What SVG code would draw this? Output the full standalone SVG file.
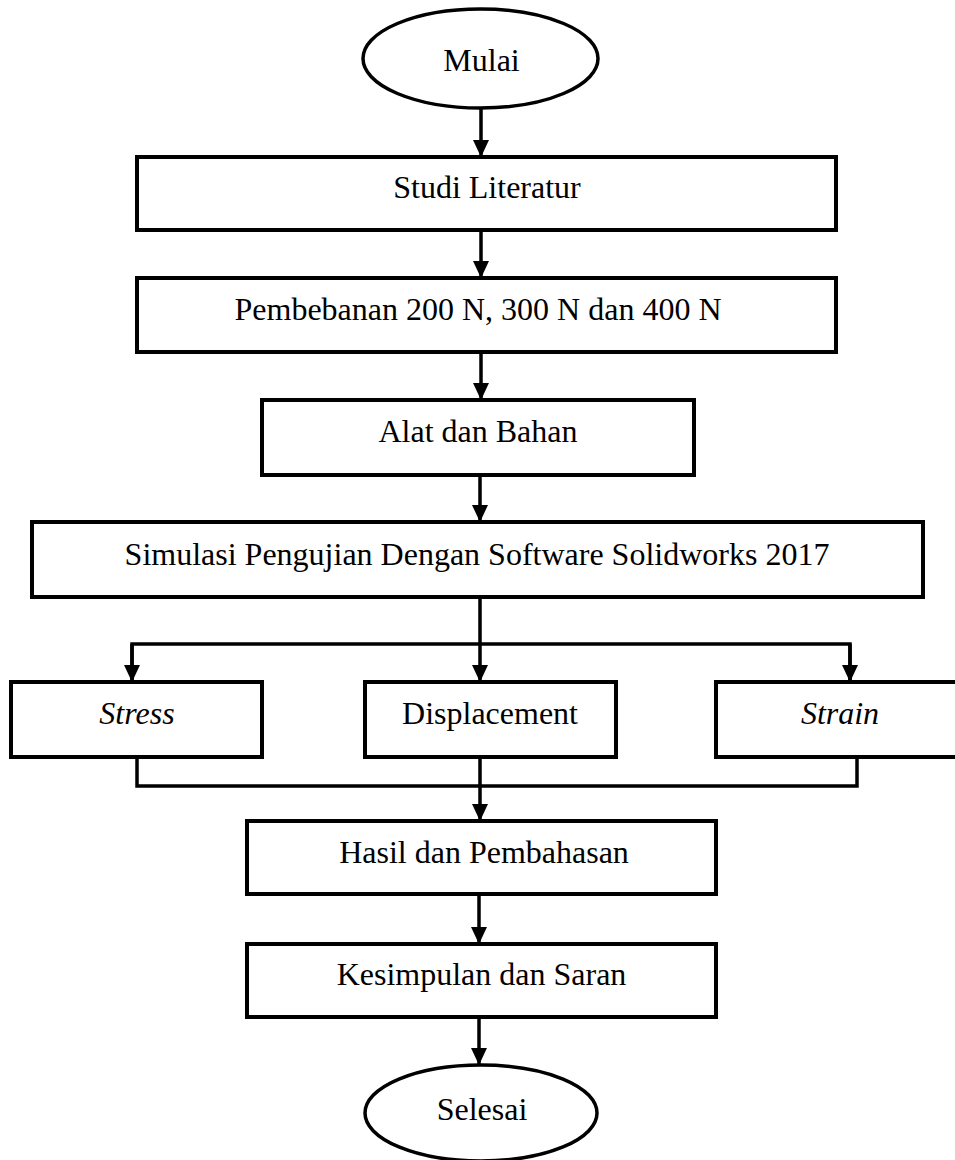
<svg xmlns="http://www.w3.org/2000/svg" width="955" height="1160" viewBox="0 0 955 1160">
<style>
.box{fill:#fff;stroke:#000;stroke-width:4}
.term{fill:#fff;stroke:#000;stroke-width:3.5}
.lbl{font-family:"Liberation Serif","Times New Roman",serif;font-size:32px;fill:#000;text-anchor:middle}
.it{font-style:italic}
.con{fill:none;stroke:#000;stroke-width:3.5}
.arr{marker-end:url(#ah)}
</style>
<defs>
<marker id="ah" markerUnits="userSpaceOnUse" markerWidth="17" markerHeight="16" refX="17" refY="8" orient="auto">
<path d="M0,0 L17,8 L0,16 z" fill="#000"/>
</marker>
</defs>
<rect width="955" height="1160" fill="#fff"/>
<g id="connectors">
<path class="con arr" d="M481,108 V157"/>
<path class="con arr" d="M481,230 V278"/>
<path class="con arr" d="M481,352 V400"/>
<path class="con arr" d="M480,475 V522"/>
<path class="con arr" d="M480,597 V682"/>
<path class="con" d="M132,682 V644 H850 V682"/>
<path class="con arr" d="M132,644 V682"/>
<path class="con arr" d="M850,644 V682"/>
<path class="con" d="M137,757 V786 H857 V757"/>
<path class="con arr" d="M480,757 V821"/>
<path class="con arr" d="M479,894 V944"/>
<path class="con arr" d="M479,1017 V1065"/>
</g>
<g id="mulai">
<ellipse class="term" cx="480.5" cy="58.5" rx="117.5" ry="49.5"/>
<text class="lbl" x="481.5" y="71">Mulai</text>
</g>
<g id="studi">
<rect class="box" x="137" y="157" width="699" height="73"/>
<text class="lbl" x="487" y="198">Studi Literatur</text>
</g>
<g id="pembebanan">
<rect class="box" x="137" y="278" width="699" height="74"/>
<text class="lbl" x="478" y="320">Pembebanan 200 N, 300 N dan 400 N</text>
</g>
<g id="alat">
<rect class="box" x="262" y="400" width="432" height="75"/>
<text class="lbl" x="478" y="442">Alat dan Bahan</text>
</g>
<g id="simulasi">
<rect class="box" x="32" y="522" width="891" height="75"/>
<text class="lbl" x="477" y="565">Simulasi Pengujian Dengan Software Solidworks 2017</text>
</g>
<g id="stress">
<rect class="box" x="11" y="682" width="251" height="75"/>
<text class="lbl it" x="137" y="724">Stress</text>
</g>
<g id="displacement">
<rect class="box" x="365" y="682" width="251" height="75"/>
<text class="lbl" x="490" y="724">Displacement</text>
</g>
<g id="strain">
<rect class="box" x="716" y="682" width="242" height="75"/>
<text class="lbl it" x="840" y="724">Strain</text>
</g>
<g id="hasil">
<rect class="box" x="247" y="821" width="469" height="73"/>
<text class="lbl" x="484" y="863">Hasil dan Pembahasan</text>
</g>
<g id="kesimpulan">
<rect class="box" x="247" y="944" width="469" height="73"/>
<text class="lbl" x="481.5" y="985">Kesimpulan dan Saran</text>
</g>
<g id="selesai">
<ellipse class="term" cx="481" cy="1113" rx="116" ry="48"/>
<text class="lbl" x="482" y="1120">Selesai</text>
</g>
</svg>
